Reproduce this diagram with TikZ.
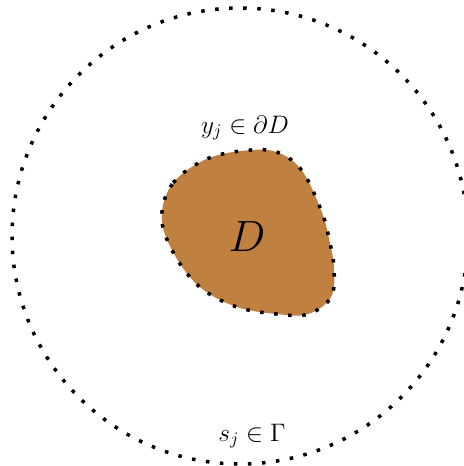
\documentclass[tikz,border=0pt]{standalone}
\usepackage{amsmath}
\definecolor{blobbrown}{RGB}{191,128,64}
\tikzset{
  dotline/.style={line width=2pt, dash pattern=on 2pt off 6pt},
}
\begin{document}
\begin{tikzpicture}[every node/.style={font=\fontsize{14.5}{17}\selectfont}]

    % 画像の範囲
    \useasboundingbox (0, 0) rectangle (9.28, 9.32);

    % 外側の円 Gamma
    \draw[dotline] (4.80, 4.60) circle (4.56);

    % 領域 D
    \fill[blobbrown] plot[smooth cycle, tension=0.6] coordinates {
      (3.234, 4.99) (3.466, 5.666) (4.166, 6.154) (5.034, 6.32) (5.60, 6.254)
      (6.054, 5.886) (6.434, 5.086) (6.586, 4.52) (6.68, 3.954) (6.62, 3.374)
      (6.166, 3.04) (5.586, 3.034) (4.72, 3.186) (3.966, 3.606) (3.446, 4.306)};
    \draw[dotline] plot[smooth cycle, tension=0.6] coordinates {
      (3.234, 4.99) (3.466, 5.666) (4.166, 6.154) (5.034, 6.32) (5.60, 6.254)
      (6.054, 5.886) (6.434, 5.086) (6.586, 4.52) (6.68, 3.954) (6.62, 3.374)
      (6.166, 3.04) (5.586, 3.034) (4.72, 3.186) (3.966, 3.606) (3.446, 4.306)};

    % ラベル
    \node (dlabel) at (4.94, 4.58) {\fontsize{36}{42}\selectfont $D$};
    \node (ylabel) at (4.90, 6.76) {$y_j \in \partial D$};
    \node (slabel) at (5.04, 0.60) {$s_j \in \Gamma$};

  \end{tikzpicture}
\end{document}
